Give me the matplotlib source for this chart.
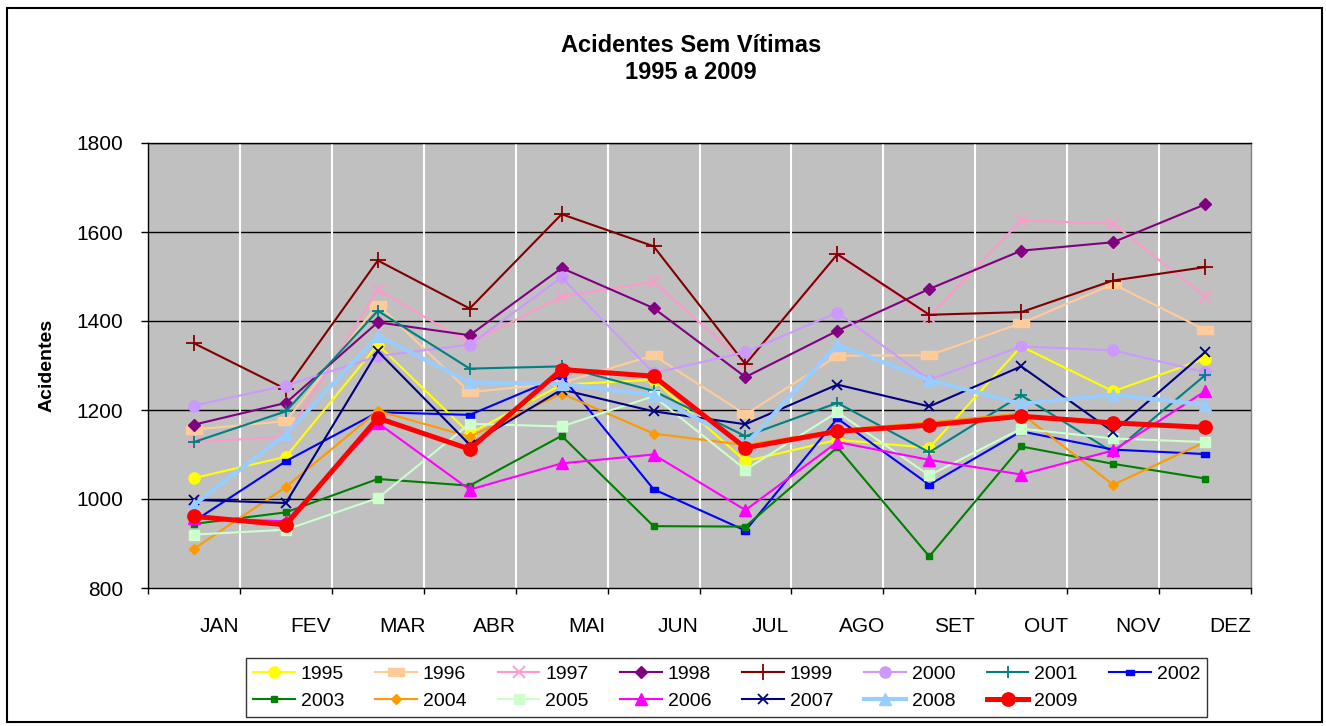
import matplotlib
matplotlib.use("Agg")
import matplotlib.pyplot as plt
from matplotlib.transforms import ScaledTranslation
from matplotlib.patches import Rectangle

plt.rcParams['font.family'] = ['Liberation Sans', 'DejaVu Sans']

months = ['JAN', 'FEV', 'MAR', 'ABR', 'MAI', 'JUN', 'JUL', 'AGO', 'SET', 'OUT', 'NOV', 'DEZ']
years = ['1995', '1996', '1997', '1998', '1999', '2000', '2001', '2002',
         '2003', '2004', '2005', '2006', '2007', '2008', '2009']

y1995 = [1047, 1095, 1347, 1147, 1257, 1268, 1085, 1133, 1115, 1343, 1242, 1315]
y1996 = [1156, 1175, 1437, 1240, 1261, 1323, 1190, 1322, 1323, 1395, 1483, 1380]
y1997 = [1128, 1140, 1470, 1350, 1455, 1488, 1305, 1549, 1410, 1626, 1619, 1455]
y1998 = [1167, 1216, 1397, 1368, 1519, 1429, 1274, 1378, 1472, 1558, 1577, 1662]
y1999 = [1350, 1247, 1536, 1428, 1640, 1568, 1303, 1550, 1414, 1420, 1491, 1521]
y2000 = [1210, 1255, 1321, 1347, 1498, 1283, 1330, 1419, 1268, 1343, 1334, 1285]
y2001 = [1128, 1197, 1423, 1293, 1298, 1243, 1141, 1216, 1105, 1233, 1105, 1278]
y2002 = [950, 1085, 1195, 1189, 1276, 1022, 929, 1181, 1032, 1152, 1111, 1101]
y2003 = [944, 970, 1045, 1030, 1142, 939, 938, 1116, 871, 1118, 1079, 1046]
y2004 = [888, 1027, 1198, 1140, 1237, 1147, 1121, 1155, 1172, 1192, 1032, 1128]
y2005 = [920, 931, 1002, 1169, 1163, 1231, 1066, 1195, 1053, 1158, 1136, 1128]
y2006 = [957, 950, 1171, 1021, 1080, 1100, 975, 1128, 1088, 1055, 1109, 1242]
y2007 = [998, 991, 1332, 1122, 1246, 1197, 1168, 1257, 1208, 1298, 1151, 1330]
y2008 = [987, 1145, 1367, 1262, 1259, 1233, 1122, 1347, 1267, 1214, 1234, 1212]
y2009 = [961, 942, 1182, 1112, 1291, 1276, 1115, 1152, 1166, 1186, 1171, 1161]

series = [y1995, y1996, y1997, y1998, y1999, y2000, y2001, y2002,
          y2003, y2004, y2005, y2006, y2007, y2008, y2009]

wide_rect = [(-1, -0.45), (1, -0.45), (1, 0.45), (-1, 0.45), (-1, -0.45)]
small_rect = [(-1, -0.6), (1, -0.6), (1, 0.6), (-1, 0.6), (-1, -0.6)]

styles = [
    dict(color='#FFFF00', marker='o', ms=8, lw=1.5),
    dict(color='#FFCC99', marker=wide_rect, ms=11.5, lw=1.5),
    dict(color='#FF99CC', marker='x', ms=8.5, lw=1.5, mew=1.3),
    dict(color='#800080', marker='D', ms=5.8, lw=1.5),
    dict(color='#800000', marker='+', ms=11, lw=1.5, mew=1.3),
    dict(color='#CC99FF', marker='o', ms=8, lw=1.5),
    dict(color='#008080', marker='+', ms=8, lw=1.5, mew=1.3),
    dict(color='#0000FF', marker=small_rect, ms=6, lw=1.5),
    dict(color='#008000', marker='s', ms=5, lw=1.5),
    dict(color='#FF9900', marker='D', ms=5.2, lw=1.5),
    dict(color='#CCFFCC', marker='s', ms=7, lw=1.5),
    dict(color='#FF00FF', marker='^', ms=8.5, lw=1.5),
    dict(color='#000080', marker='x', ms=7.5, lw=1.5, mew=1.3),
    dict(color='#99CCFF', marker='^', ms=8.5, lw=3.0),
    dict(color='#FF0000', marker='o', ms=9.6, lw=3.6),
]

fig = plt.figure(figsize=(13.26, 7.26), dpi=100)
ax = fig.add_axes([148 / 1326, 1 - 588 / 726, 1103 / 1326, 445 / 726])
ax.set_facecolor('#C0C0C0')

x = list(range(len(months)))
handles = []
for yr, vals, st in zip(years, series, styles):
    st = dict(st)
    c = st.pop('color')
    h, = ax.plot(x, vals, color=c, markerfacecolor=c, markeredgecolor=c,
                 linewidth=st.pop('lw'), marker=st.pop('marker'), markersize=st.pop('ms'),
                 markeredgewidth=st.pop('mew', 1.0), label=yr, zorder=3)
    handles.append(h)

ax.set_xlim(-0.5, 11.5)
ax.set_ylim(800, 1800)
ax.set_yticks(range(800, 1801, 200))
for v in range(1000, 1801, 200):
    ax.axhline(v, color='black', lw=1.0, zorder=1)
for b in range(1, 12):
    ax.axvline(b - 0.5, color='white', lw=1.5, zorder=1)

ax.set_xticks(x)
ax.set_xticklabels(months)
ax.set_xticks([b - 0.5 for b in range(13)], minor=True)
ax.tick_params(axis='x', which='major', length=0, pad=21, labelsize=15)
ax.tick_params(axis='x', which='minor', length=4.5, direction='out', width=1)
ax.tick_params(axis='y', length=5, direction='out', width=1, pad=13, labelsize=15)
offset = ScaledTranslation(25 / 100, 0, fig.dpi_scale_trans)
for lab in ax.get_xticklabels():
    lab.set_transform(lab.get_transform() + offset)

for side in ['left', 'bottom', 'top']:
    ax.spines[side].set_color('black')
    ax.spines[side].set_linewidth(1.0)
ax.spines['right'].set_color('#808080')
ax.spines['right'].set_linewidth(1.0)

fig.text(691 / 1326, 1 - 59 / 726, 'Acidentes Sem Vítimas\n1995 a 2009',
         ha='center', va='center', fontsize=17, fontweight='bold', linespacing=1.2)
fig.text(47 / 1326, 1 - 365 / 726, 'Acidentes', rotation=90, ha='center', va='center',
         fontsize=14, fontweight='bold')

# row-wise ordering of legend entries (8 columns, 2 rows)
ncol = 8
order = []
for c in range(ncol):
    for r in range(2):
        i = r * ncol + c
        if i < len(handles):
            order.append(i)
leg = ax.legend([handles[i] for i in order], [years[i] for i in order],
                loc='center', bbox_to_anchor=(726.5 / 1326, 1 - 687.5 / 726),
                bbox_transform=fig.transFigure, ncol=ncol, fontsize=14, numpoints=1,
                handlelength=2.15, handletextpad=0.3, columnspacing=1.6,
                labelspacing=0.5, borderpad=0.35, fancybox=False, frameon=True,
                borderaxespad=0)
leg.get_frame().set_edgecolor('black')
leg.get_frame().set_linewidth(1.0)

fig.patches.append(Rectangle((7 / 1326, 1 - 722 / 726), 1315 / 1326, 714 / 726,
                             transform=fig.transFigure, fill=False,
                             edgecolor='black', linewidth=1.5))

fig.savefig('out.png', dpi=100)
